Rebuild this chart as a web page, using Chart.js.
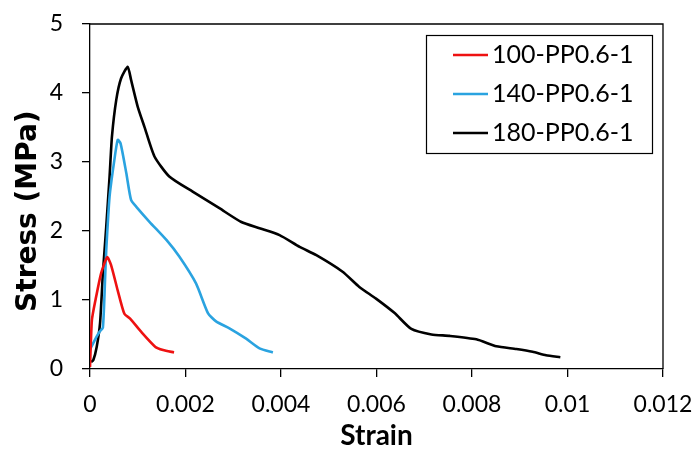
<!DOCTYPE html>
<html>
<head>
<meta charset="utf-8">
<script src="https://cdn.jsdelivr.net/npm/chart.js@4.4.1/dist/chart.umd.min.js"></script>
<style>
  html, body { margin: 0; padding: 0; background: #fff; }
  #wrap { width: 696px; height: 457px; }
</style>
</head>
<body>
<div id="wrap"><canvas id="chart"></canvas></div>
<script>
'use strict';

// strain / stress pairs
let strain100 = [0, 0.00004, 0.000115, 0.000234, 0.00036, 0.00044, 0.00058, 0.00072, 0.00084, 0.00107, 0.00137, 0.00153, 0.00176];
let stress100 = [0.03, 0.71, 1.0, 1.39, 1.62, 1.51, 1.14, 0.80, 0.73, 0.54, 0.32, 0.275, 0.24];

let strain140 = [0, 0.0001, 0.0002, 0.00027, 0.00032, 0.00034, 0.00041, 0.0005, 0.00058, 0.00064, 0.00076, 0.00086, 0.00097, 0.00125, 0.0016, 0.00187, 0.00222, 0.00247, 0.00264, 0.00292, 0.00327, 0.00355, 0.00383];
let stress140 = [0.28, 0.42, 0.54, 0.60, 1.39, 1.72, 2.50, 2.98, 3.32, 3.27, 2.84, 2.45, 2.35, 2.13, 1.87, 1.63, 1.24, 0.81, 0.69, 0.59, 0.44, 0.30, 0.24];

let strain180 = [0.00002, 0.00007, 0.00014, 0.00021, 0.00027, 0.00034, 0.00041, 0.00046, 0.00055, 0.00065, 0.00079, 0.00086, 0.001, 0.00114, 0.00135, 0.00166, 0.00215, 0.00271, 0.00317, 0.00355, 0.00397, 0.00439, 0.00474, 0.00529, 0.00564, 0.00599, 0.00638, 0.00673, 0.00715, 0.00753, 0.00809, 0.00851, 0.00893, 0.00927, 0.00955, 0.00985];
let stress180 = [0.10, 0.13, 0.32, 0.66, 1.39, 2.06, 2.79, 3.37, 3.90, 4.21, 4.38, 4.19, 3.80, 3.51, 3.08, 2.79, 2.57, 2.33, 2.13, 2.04, 1.94, 1.77, 1.65, 1.41, 1.19, 1.02, 0.81, 0.58, 0.50, 0.48, 0.43, 0.33, 0.29, 0.25, 0.20, 0.17];

let seriesNames = ['100-PP0.6-1', '140-PP0.6-1', '180-PP0.6-1'];
let seriesColors = ['#ee1111', '#2aa3e0', '#000000'];

let xTicks = [0, 0.002, 0.004, 0.006, 0.008, 0.01, 0.012];
let yTicks = [0, 1, 2, 3, 4, 5];

function toPoints(xs, ys) {
  return xs.map((x, i) => ({ x: x, y: ys[i] }));
}

const FONT = 'Lato, "Liberation Sans", sans-serif';

// box around the plot area (top and right edges too)
const frame = {
  id: 'frame',
  afterDraw(chart) {
    const a = chart.chartArea;
    const ctx = chart.ctx;
    ctx.save();
    ctx.strokeStyle = '#000';
    ctx.lineWidth = 1.3;
    ctx.beginPath();
    ctx.moveTo(a.left, a.top);
    ctx.lineTo(a.right, a.top);
    ctx.lineTo(a.right, a.bottom);
    ctx.stroke();
    ctx.restore();
  }
};

// legend drawn as a boxed list inside the plot
const boxLegend = {
  id: 'boxLegend',
  afterDraw(chart) {
    const ctx = chart.ctx;
    const sets = chart.data.datasets;
    ctx.save();
    ctx.strokeStyle = '#000';
    ctx.lineWidth = 1.2;
    ctx.strokeRect(426.5, 35.5, 226, 118);
    ctx.font = '25px ' + FONT;
    ctx.textBaseline = 'middle';
    ctx.fillStyle = '#000';
    sets.forEach((ds, i) => {
      const y = 55 + i * 39;
      ctx.strokeStyle = ds.borderColor;
      ctx.lineWidth = 2.5;
      ctx.beginPath();
      ctx.moveTo(453, y);
      ctx.lineTo(488, y);
      ctx.stroke();
      ctx.fillText(ds.label, 492, y);
    });
    ctx.restore();
  }
};

let datasets = seriesNames.map((name, i) => ({
  label: name,
  data: toPoints([strain100, strain140, strain180][i], [stress100, stress140, stress180][i]),
  borderColor: seriesColors[i],
  borderWidth: 2.6,
  pointRadius: 0,
  tension: 0.2,
  fill: false
}));

let config = {
  type: 'scatter',
  data: { datasets: datasets },
  options: {
    responsive: true,
    maintainAspectRatio: false,
    animation: false,
    showLine: true,
    layout: { padding: { top: 24, right: 33, left: 0, bottom: 0 } },
    plugins: {
      legend: { display: false },
      tooltip: { enabled: false }
    },
    scales: {
      x: {
        type: 'linear',
        min: 0,
        max: 0.012,
        afterFit(scale) {
          scale.height = 88;
          scale.paddingLeft = 0;
          scale.paddingRight = 0;
        },
        afterBuildTicks(scale) { scale.ticks = xTicks.map(v => ({ value: v })); },
        ticks: {
          color: '#000',
          font: { family: FONT, size: 23 },
          padding: 14,
          maxRotation: 0,
          callback: v => String(Number(v.toFixed(3)))
        },
        grid: { drawOnChartArea: false, drawTicks: true, tickLength: 8, color: '#000', lineWidth: 1.3 },
        border: { display: true, color: '#000', width: 1.3 },
        title: {
          display: true,
          text: 'Strain',
          color: '#000',
          font: { family: FONT, size: 28, weight: 'bold' },
          padding: { top: 0, bottom: 4 }
        }
      },
      y: {
        type: 'linear',
        min: 0,
        max: 5,
        afterFit(scale) {
          scale.width = 90;
          scale.paddingTop = 0;
          scale.paddingBottom = 0;
        },
        afterBuildTicks(scale) { scale.ticks = yTicks.map(v => ({ value: v })); },
        ticks: {
          color: '#000',
          font: { family: FONT, size: 23 },
          padding: 19
        },
        grid: { drawOnChartArea: false, drawTicks: true, tickLength: 8, color: '#000', lineWidth: 1.3 },
        border: { display: true, color: '#000', width: 1.3 },
        title: {
          display: true,
          text: 'Stress (MPa)   ',
          color: '#000',
          font: { family: '"DejaVu Sans", sans-serif', size: 28, weight: 'bold' },
          padding: { top: 12, bottom: 0 }
        }
      }
    }
  },
  plugins: [frame, boxLegend]
};

let canvasElem = document.getElementById('chart');
let myChart = new Chart(canvasElem, config);
</script>
</body>
</html>
